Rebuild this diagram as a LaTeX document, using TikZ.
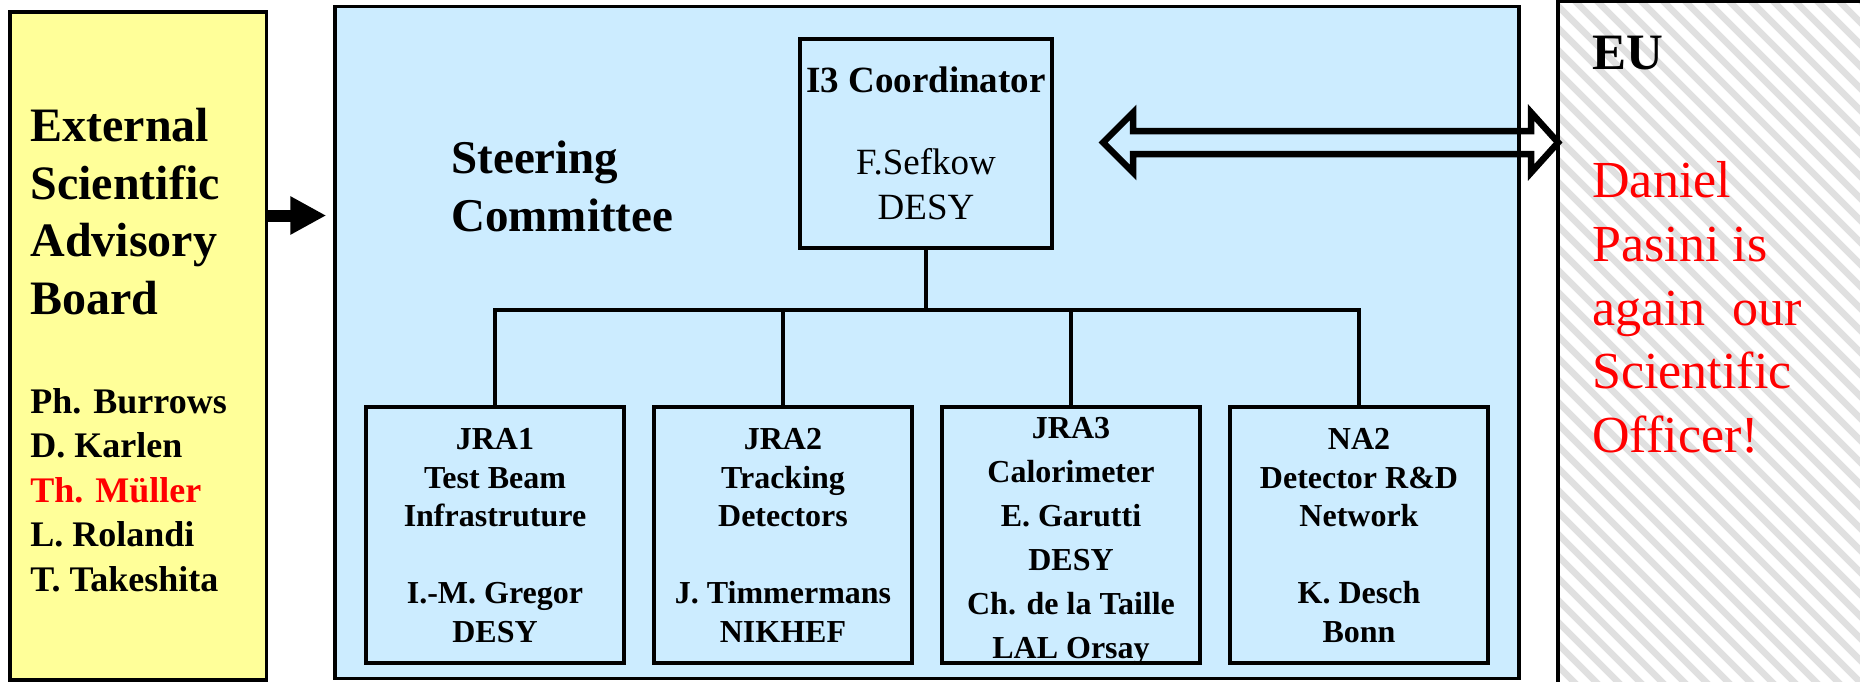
\documentclass[tikz,border=0pt]{standalone}
\usepackage{fontspec}
\setmainfont{Liberation Serif}
\usetikzlibrary{arrows.meta}
\definecolor{esabyellow}{RGB}{255,255,153}
\definecolor{scblue}{RGB}{204,236,255}
\definecolor{hatchgrey}{RGB}{224,224,224}

\begin{document}
\begin{tikzpicture}[x=0.5pt,y=-0.5pt,every node/.style={inner sep=0pt},
  box/.style={draw,line width=1.75pt},
  subbox/.style={box,fill=scblue,minimum width=129pt,minimum height=128pt},
  subtext/.style={align=center,font=\fontsize{16pt}{19.25pt}\selectfont\bfseries},
  hatch/.style={draw=hatchgrey,line width=3.25pt}]

  \useasboundingbox (0,0) rectangle (1860,681);

  % Specification of boxes (position, etc.)
  \node[box,fill=esabyellow,minimum width=128.25pt,minimum height=334pt] (esab) at (138.25,346) {};
  \node[box,fill=scblue,minimum width=592pt,minimum height=336pt] (sc) at (927,342.5) {};
  \node[fill=white,minimum width=158.25pt,minimum height=349.25pt] (eu) at (1716.75,350.75) {};
  \node[box,fill=scblue,minimum width=126pt,minimum height=104.5pt,align=center,
    font=\fontsize{18.5pt}{22.5pt}\selectfont] (coord) at (926,143.5)
    {\rule{0pt}{18.75pt}\textbf{I3 Coordinator}\\[18.5pt]F.Sefkow\\DESY\strut};
  \node[subbox] (jra1) at (495,535) {};
  \node[subbox] (jra2) at (783,535) {};
  \node[subbox] (jra3) at (1071,535) {};
  \node[subbox] (na2) at (1359,535) {};

  % hatching of the EU box
  \begin{scope}
    \clip (eu.north west) rectangle (eu.south east);
    \foreach \x in {860,882,...,1870}
      \draw[hatch] (\x,-10) -- ++(710,710);
  \end{scope}
  \draw[box] (eu.south west) |- (eu.north east);

  % tree below the coordinator
  \coordinate (bar) at (926,310);
  \begin{scope}[line width=1.65pt]
    \draw (coord.south) -- (bar);
    \draw (jra1.north) |- (bar) -| (na2.north);
    \foreach \b in {jra2,jra3}
      \draw (\b.north) -- (\b.north |- bar);
  \end{scope}

  % arrows
  \coordinate (arrowy) at (0,215.5);
  \draw[line width=6pt,-{Triangle[length=18pt,width=18pt]},shorten >=3.5pt]
    (esab.east |- arrowy) -- (sc.west |- arrowy);
  \coordinate (rtip) at (eu.west |- 0,142.5);
  \draw[line width=3.25pt] (rtip) -- ++(-27,-30) -- ++(0,18.5) -- ++(-398,0)
    -- ++(0,-18.5) -- ++(-30,30) -- ++(30,30) -- ++(0,-18.5) -- ++(398,0)
    -- ++(0,18.5) -- cycle;

  % texts
  \node[anchor=north west,align=left,font=\fontsize{24pt}{28.85pt}\selectfont\bfseries]
    (esabtitle) at (30,100.6) {\strut External\\Scientific\\Advisory\\Board\strut};
  \node[anchor=north west,align=left,font=\fontsize{18pt}{22.25pt}\selectfont\bfseries]
    (esabnames) at (30,381.85) {\strut Ph. Burrows\\D. Karlen\\\textcolor{red}{Th. Müller}\\L. Rolandi\\T. Takeshita\strut};
  \node[anchor=north west,align=left,font=\fontsize{23.5pt}{29pt}\selectfont\bfseries]
    (sctitle) at (451,132.4) {\strut Steering\\Committee\strut};
  \node[subtext] (jra1text) at (495,538.3)
    {\strut JRA1\\Test Beam\\Infrastruture\\[19.25pt]I.-M. Gregor\\DESY\strut};
  \node[subtext] (jra2text) at (783,538.3)
    {\strut JRA2\\Tracking\\Detectors\\[19.25pt]J. Timmermans\\NIKHEF\strut};
  \node[subtext,font=\fontsize{16pt}{22pt}\selectfont\bfseries] (jra3text) at (1071,539.2)
    {\strut JRA3\\Calorimeter\\E. Garutti\\DESY\\Ch. de la Taille\\LAL Orsay\strut};
  \node[subtext] (na2text) at (1359,538.3)
    {\strut NA2\\Detector R\&D\\Network\\[19.25pt]K. Desch\\Bonn\strut};
  \node[anchor=base west,font=\fontsize{25.5pt}{30pt}\selectfont\bfseries]
    (eutitle) at (1592,69) {EU};
  \node[anchor=north west,align=left,text=red,font=\fontsize{26pt}{31.9pt}\selectfont]
    (eunote) at (1592,152.4) {\strut Daniel\\Pasini is\\again\hspace{13.5pt}our\\Scientific\\Officer!\strut};

\end{tikzpicture}
\end{document}
